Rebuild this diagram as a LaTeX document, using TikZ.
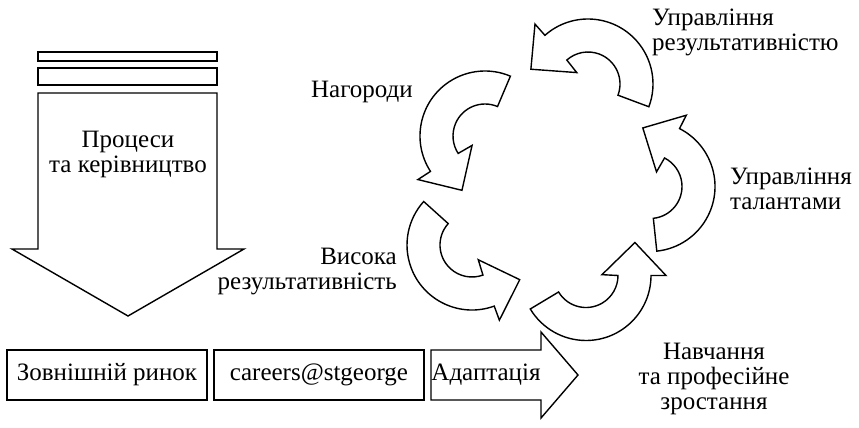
\documentclass[tikz,border=0pt]{standalone}
\usepackage{fontspec}
\setmainfont{Liberation Serif}
\begin{document}
\begin{tikzpicture}[x=1pt,y=1pt,
  outl/.style={draw=black,line width=1.4pt,fill=white,line join=miter},
  lbl/.style={font=\fontsize{25}{25}\selectfont,inner sep=0pt},
  boxed/.style={outl,lbl,minimum height=50pt},
  % curved arrow of the cycle: #1 = angle of the head base, #2 = angular span of the body
  pics/cyclearrow/.style 2 args={code={
    \draw[outl] (#1-#2:65pt) -- (#1-#2:32pt)
      arc[start angle=#1-#2,end angle=#1,radius=32pt]
      -- (#1+3:16pt) -- (#1+34:59pt) -- (#1:80pt) -- (#1:65pt)
      arc[start angle=#1,end angle=#1-#2,radius=65pt] -- cycle;
  }}]
\useasboundingbox (0,0) rectangle (859,-428);

% processes and governance: stacked bars above a big downward arrow
\draw[outl] (38,-52) rectangle (217,-61);
\draw[outl] (38,-68) rectangle (217,-85);
\draw[outl] (38,-93) -- (217,-93) -- (217,-249) -- (244,-249) -- (128,-316)
  -- (12,-249) -- (38,-249) -- cycle;
\node[lbl,align=center,anchor=north] (proc) at (128,-130.5) {Процеси\\та керівництво};

% bottom row
\node[boxed,minimum width=200pt] (market) at (107,-375) {Зовнішній ринок};
\node[boxed,minimum width=210pt] (careers) at (319,-375) {careers@stgeorge};
\draw[outl] (431,-350) -- (541,-350) -- (541,-332) -- (578,-375) -- (541,-418)
  -- (541,-400) -- (431,-400) -- cycle;
\node[lbl,anchor=base] (adapt) at (486,-380) {Адаптація};

% cycle of five curved arrows
\pic at (588,-84) {cyclearrow={131.5}{152}};
\pic at (485,-136) {cyclearrow={213}{146}};
\pic at (472,-245) {cyclearrow={-70}{152}};
\pic at (586,-275.5) {cyclearrow={0}{149}};
\pic at (650,-186.5) {cyclearrow={63}{147}};

% labels of the cycle
\node[lbl,anchor=base] (rewards) at (362,-97) {Нагороди};
\node[lbl,align=right,anchor=north east] (highperf) at (397,-247.5) {Висока\\результативність};
\node[lbl,align=left,anchor=north west] (perfmgmt) at (652,-9) {Управління\\результативністю};
\node[lbl,align=left,anchor=north west] (talent) at (730,-168) {Управління\\талантами};
\node[lbl,align=center,anchor=north] (learning) at (714,-342.5) {Навчання\\та професійне\\зростання};
\end{tikzpicture}
\end{document}
